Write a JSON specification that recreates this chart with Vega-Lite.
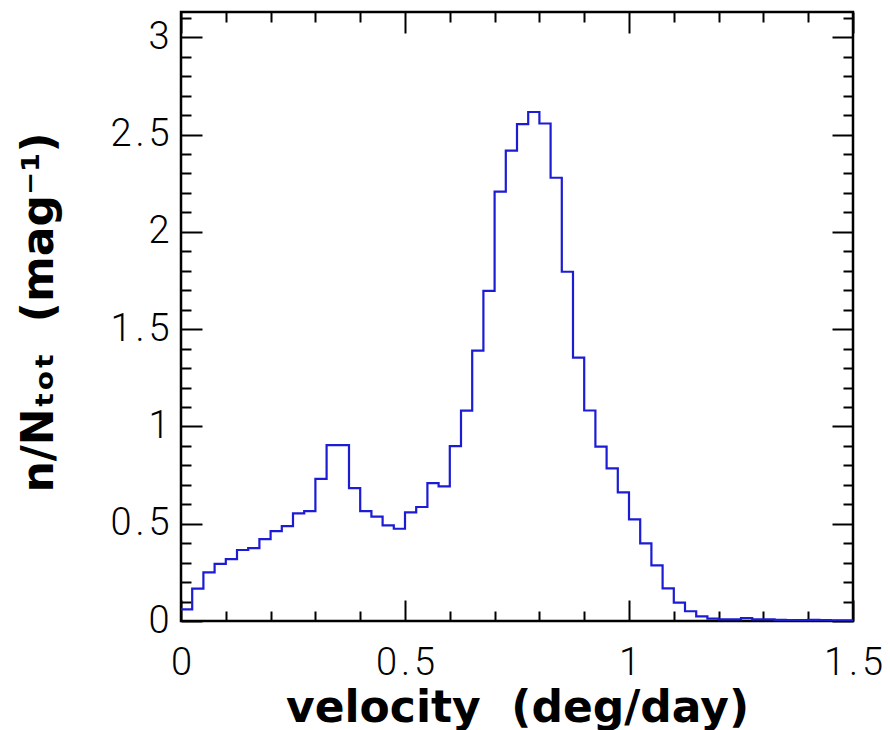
{
  "$schema": "https://vega.github.io/schema/vega-lite/v6.json",
  "width": 672,
  "height": 609,
  "autosize": "none",
  "padding": {"left": 181, "top": 12, "right": 37, "bottom": 109},
  "background": "white",
  "config": {
    "view": {"stroke": "black", "strokeWidth": 2.5},
    "axis": {
      "domain": false,
      "grid": false,
      "tickColor": "black",
      "tickWidth": 2,
      "tickSize": {"condition": {"test": "abs(datum.value*2-round(datum.value*2))<0.001", "value": -21}, "value": -10},
      "format": "~g",
      "labelFont": "Roboto",
      "labelFontWeight": 300,
      "labelFontSize": 38,
      "labelColor": "black",
      "labelFlush": false,
      "labelOverlap": false,
      "labelExpr": "abs(datum.value*2-round(datum.value*2))<0.001 ? join(split(datum.label,''),'\u200a') : ''",
      "titleFont": "DejaVu Sans",
      "titleFontWeight": "bold",
      "titleFontSize": 44,
      "titleColor": "black"
    }
  },
  "data": {
    "values": [
      {"v": 0.000, "n": 0.060}, {"v": 0.025, "n": 0.166}, {"v": 0.050, "n": 0.250}, {"v": 0.075, "n": 0.294},
      {"v": 0.100, "n": 0.318}, {"v": 0.125, "n": 0.365}, {"v": 0.150, "n": 0.375}, {"v": 0.175, "n": 0.421},
      {"v": 0.200, "n": 0.462}, {"v": 0.225, "n": 0.488}, {"v": 0.250, "n": 0.553}, {"v": 0.275, "n": 0.565},
      {"v": 0.300, "n": 0.730}, {"v": 0.325, "n": 0.904}, {"v": 0.350, "n": 0.904}, {"v": 0.375, "n": 0.683},
      {"v": 0.400, "n": 0.565}, {"v": 0.425, "n": 0.536}, {"v": 0.450, "n": 0.491}, {"v": 0.475, "n": 0.474},
      {"v": 0.500, "n": 0.558}, {"v": 0.525, "n": 0.586}, {"v": 0.550, "n": 0.709}, {"v": 0.575, "n": 0.692},
      {"v": 0.600, "n": 0.899}, {"v": 0.625, "n": 1.081}, {"v": 0.650, "n": 1.390}, {"v": 0.675, "n": 1.697},
      {"v": 0.700, "n": 2.207}, {"v": 0.725, "n": 2.418}, {"v": 0.750, "n": 2.554}, {"v": 0.775, "n": 2.616},
      {"v": 0.800, "n": 2.557}, {"v": 0.825, "n": 2.278}, {"v": 0.850, "n": 1.795}, {"v": 0.875, "n": 1.354},
      {"v": 0.900, "n": 1.082}, {"v": 0.925, "n": 0.896}, {"v": 0.950, "n": 0.784}, {"v": 0.975, "n": 0.661},
      {"v": 1.000, "n": 0.522}, {"v": 1.025, "n": 0.399}, {"v": 1.050, "n": 0.286}, {"v": 1.075, "n": 0.168},
      {"v": 1.100, "n": 0.094}, {"v": 1.125, "n": 0.050}, {"v": 1.150, "n": 0.024}, {"v": 1.175, "n": 0.012},
      {"v": 1.200, "n": 0.008}, {"v": 1.225, "n": 0.008}, {"v": 1.250, "n": 0.015}, {"v": 1.275, "n": 0.008},
      {"v": 1.300, "n": 0.008}, {"v": 1.325, "n": 0.006}, {"v": 1.350, "n": 0.005}, {"v": 1.375, "n": 0.005},
      {"v": 1.400, "n": 0.006}, {"v": 1.425, "n": 0.004}, {"v": 1.450, "n": 0.003}, {"v": 1.475, "n": 0.003},
      {"v": 1.500, "n": 0.003}
    ]
  },
  "layer": [
    {
      "mark": {"type": "line", "interpolate": "step-after", "color": "#1c1cd4", "strokeWidth": 2.2, "clip": true},
      "encoding": {
        "x": {
          "field": "v", "type": "quantitative",
          "scale": {"domain": [0, 1.5], "nice": false, "zero": false},
          "axis": {
            "orient": "bottom",
            "values": [0,0.1,0.2,0.3,0.4,0.5,0.6,0.7,0.8,0.9,1,1.1,1.2,1.3,1.4,1.5],
            "labelPadding": 44,
            "title": "velocity\u00a0\u00a0(deg/day)",
            "titleBaseline": "alphabetic",
            "titleY": 100
          }
        },
        "y": {
          "field": "n", "type": "quantitative",
          "scale": {"domain": [0, 3.13], "nice": false, "zero": false},
          "axis": {
            "orient": "left",
            "values": [0,0.1,0.2,0.3,0.4,0.5,0.6,0.7,0.8,0.9,1,1.1,1.2,1.3,1.4,1.5,1.6,1.7,1.8,1.9,2,2.1,2.2,2.3,2.4,2.5,2.6,2.7,2.8,2.9,3,3.1],
            "labelPadding": 33,
            "title": "n/N\u209c\u2092\u209c\u00a0\u00a0(mag\u207b\u00b9)",
            "titleBaseline": "alphabetic",
            "titleX": -129,
            "titleY": 300
          }
        }
      }
    },
    {
      "mark": {"type": "line", "opacity": 0},
      "encoding": {
        "x": {
          "field": "v", "type": "quantitative",
          "scale": {"domain": [0, 1.5], "nice": false, "zero": false},
          "axis": {
            "orient": "top",
            "values": [0,0.1,0.2,0.3,0.4,0.5,0.6,0.7,0.8,0.9,1,1.1,1.2,1.3,1.4,1.5],
            "labels": false,
            "title": null
          }
        },
        "y": {
          "field": "n", "type": "quantitative",
          "scale": {"domain": [0, 3.13], "nice": false, "zero": false},
          "axis": {
            "orient": "right",
            "values": [0,0.1,0.2,0.3,0.4,0.5,0.6,0.7,0.8,0.9,1,1.1,1.2,1.3,1.4,1.5,1.6,1.7,1.8,1.9,2,2.1,2.2,2.3,2.4,2.5,2.6,2.7,2.8,2.9,3,3.1],
            "labels": false,
            "title": null
          }
        }
      }
    }
  ],
  "resolve": {"axis": {"x": "independent", "y": "independent"}}
}
